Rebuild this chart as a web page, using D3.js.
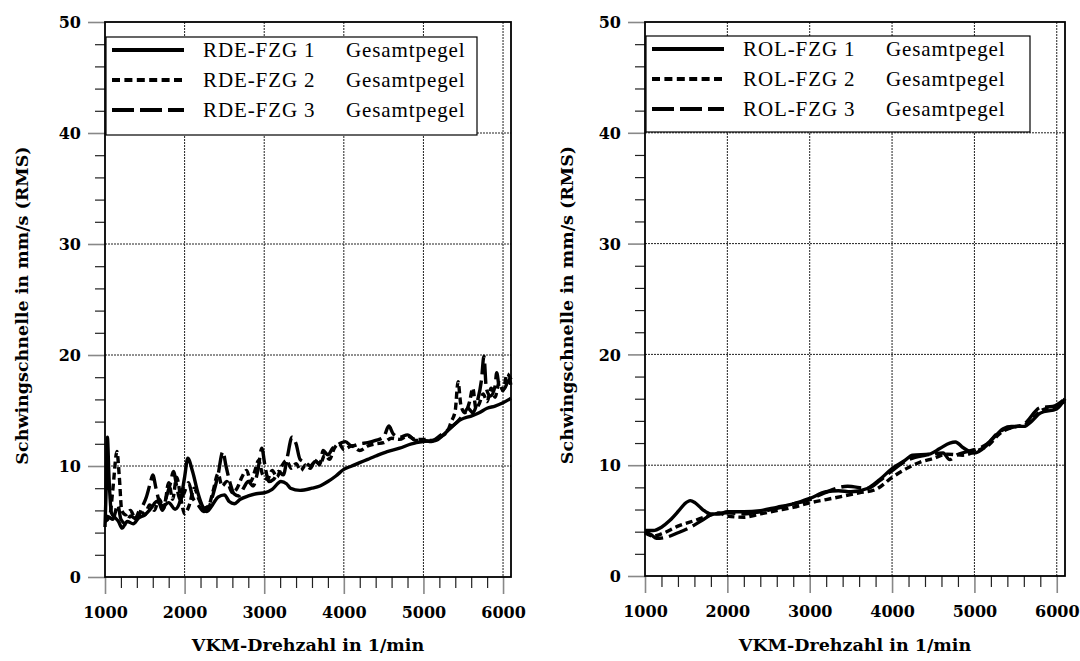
<!DOCTYPE html>
<html>
<head>
<meta charset="utf-8">
<script src="https://cdn.jsdelivr.net/npm/d3@7"></script>
<style>
  html, body { margin: 0; padding: 0; background: #fff; }
  svg { display: block; }
  text { font-family: "Liberation Serif", "DejaVu Serif", serif; fill: #000; }
  text.bold { font-family: "DejaVu Serif", serif; font-weight: bold; }
</style>
</head>
<body>
<svg id="chart" width="1080" height="661"></svg>
<script>
// ---------- DATA ----------
const xTicks = [1000, 2000, 3000, 4000, 5000, 6000];
const yTicks = [0, 10, 20, 30, 40, 50];
const xDomain = [1000, 6100];
const yDomain = [0, 50];
const xTitle = "VKM-Drehzahl in 1/min";
const yTitle = "Schwingschnelle in mm/s (RMS)";
const legendSuffix = "Gesamtpegel";
const leftNames = ["RDE-FZG 1", "RDE-FZG 2", "RDE-FZG 3"];
const rightNames = ["ROL-FZG 1", "ROL-FZG 2", "ROL-FZG 3"];

const rde1 = [[1000,4.5],[1015,8],[1030,12.6],[1050,9],[1080,5.8],[1120,5.4],[1170,5.0],[1215,4.4],[1280,5.0],[1355,4.8],[1420,5.3],[1500,5.6],[1580,6.2],[1650,6.8],[1730,6.4],[1800,6.7],[1880,6.1],[1950,7.0],[2000,9.0],[2040,10.7],[2100,9.5],[2170,7.5],[2230,6.3],[2280,5.9],[2350,6.5],[2420,7.2],[2500,7.4],[2560,6.8],[2625,6.6],[2700,7.0],[2800,7.3],[2900,7.5],[3010,7.6],[3100,7.9],[3210,8.6],[3280,8.4],[3330,8.0],[3450,7.8],[3600,8.0],[3700,8.2],[3800,8.6],[3900,9.1],[4000,9.7],[4100,10.0],[4200,10.3],[4300,10.6],[4400,10.9],[4545,11.3],[4700,11.6],[4850,12.0],[5000,12.2],[5150,12.3],[5250,12.8],[5350,13.5],[5475,14.2],[5600,14.5],[5700,14.8],[5800,15.2],[5900,15.4],[6000,15.7],[6100,16.1]];

const rde2 = [[1000,5.0],[1060,5.5],[1100,8.0],[1150,11.3],[1180,9.0],[1210,6.0],[1260,5.6],[1320,6.0],[1380,5.3],[1440,6.0],[1500,5.6],[1560,6.5],[1620,6.0],[1680,7.0],[1740,6.2],[1800,8.5],[1850,7.0],[1900,9.0],[1950,7.2],[2000,5.7],[2060,6.5],[2120,8.0],[2180,7.0],[2240,6.2],[2300,6.4],[2360,7.8],[2420,9.3],[2470,8.2],[2530,8.6],[2600,7.6],[2660,8.0],[2720,9.0],[2780,9.6],[2830,8.6],[2880,9.5],[2930,10.5],[2980,9.2],[3040,8.8],[3100,9.6],[3160,9.0],[3220,10.0],[3280,10.5],[3340,9.8],[3400,10.2],[3460,9.6],[3520,10.1],[3580,9.8],[3640,10.5],[3700,10.1],[3760,11.0],[3820,10.6],[3880,11.6],[3940,12.0],[4000,11.5],[4100,11.8],[4200,11.4],[4300,11.8],[4400,12.0],[4500,12.1],[4600,12.5],[4700,12.4],[4800,12.7],[4900,12.4],[5000,12.4],[5100,12.3],[5200,12.6],[5300,13.1],[5350,14.0],[5400,15.0],[5435,17.6],[5470,15.5],[5520,14.8],[5580,15.8],[5620,17.0],[5660,15.2],[5700,15.6],[5750,16.5],[5800,15.8],[5850,17.0],[5900,16.2],[5950,17.5],[6000,16.8],[6050,18.3],[6100,17.8]];

const rde3 = [[1000,5.5],[1050,5.4],[1100,5.2],[1160,6.5],[1200,5.2],[1260,4.8],[1320,5.5],[1400,5.2],[1460,6.2],[1520,7.2],[1570,8.5],[1600,9.2],[1640,8.0],[1680,6.8],[1720,6.0],[1770,7.2],[1820,8.4],[1860,9.5],[1900,8.2],[1940,7.0],[1990,7.5],[2050,8.5],[2100,7.2],[2170,6.5],[2240,5.9],[2300,6.2],[2360,7.5],[2420,9.2],[2480,11.3],[2520,10.0],[2570,8.5],[2620,7.5],[2680,7.3],[2740,8.0],[2800,8.6],[2860,8.2],[2920,9.6],[2970,11.6],[3010,10.0],[3060,8.6],[3120,8.8],[3180,9.5],[3240,9.2],[3290,10.8],[3350,12.6],[3400,12.0],[3450,10.6],[3520,10.3],[3580,10.0],[3640,10.4],[3700,10.2],[3740,11.4],[3800,11.0],[3860,11.6],[3920,11.9],[4020,12.2],[4100,11.8],[4200,12.0],[4300,12.1],[4400,12.3],[4500,12.6],[4565,13.6],[4620,12.9],[4700,12.6],[4800,12.8],[4900,12.3],[5000,12.3],[5100,12.2],[5200,12.7],[5300,13.2],[5400,13.8],[5500,14.6],[5560,15.2],[5620,14.8],[5680,15.9],[5730,17.8],[5760,19.9],[5790,17.0],[5840,16.3],[5900,17.2],[5920,18.4],[5960,16.8],[6020,17.0],[6080,17.8],[6100,17.2]];

const rol1 = [[1000,4.1],[1100,4.1],[1200,4.4],[1300,5.0],[1400,5.8],[1480,6.5],[1550,6.8],[1610,6.6],[1700,6.0],[1800,5.6],[1900,5.6],[2000,5.8],[2200,5.8],[2400,5.9],[2600,6.2],[2800,6.5],[3000,7.0],[3200,7.6],[3350,7.7],[3500,7.6],[3700,7.9],[3850,8.7],[4000,9.7],[4150,10.4],[4250,10.9],[4450,11.0],[4580,11.5],[4700,12.0],[4770,12.1],[4860,11.6],[5000,11.1],[5150,11.8],[5250,12.6],[5350,13.3],[5450,13.5],[5600,13.5],[5700,14.0],[5800,14.7],[6000,15.1],[6100,16.0]];

const rol2 = [[1000,3.9],[1100,3.6],[1200,3.8],[1400,4.5],[1600,5.0],[1800,5.5],[1900,5.7],[2000,5.4],[2200,5.3],[2400,5.6],[2600,5.9],[2800,6.2],[3000,6.6],[3200,6.9],[3400,7.2],[3600,7.5],[3800,7.8],[4000,8.9],[4200,9.8],[4350,10.3],[4500,10.6],[4660,11.0],[4860,10.9],[5000,11.2],[5185,11.9],[5300,12.8],[5450,13.4],[5600,13.6],[5830,15.0],[6000,15.3],[6100,15.8]];

const rol3 = [[1000,4.0],[1080,3.7],[1140,3.4],[1260,3.5],[1400,3.9],[1550,4.4],[1710,5.1],[1830,5.6],[2000,5.7],[2200,5.6],[2400,5.8],[2600,6.1],[2800,6.5],[3000,6.9],[3180,7.5],[3460,8.1],[3700,7.9],[3850,8.6],[4000,9.5],[4200,10.5],[4400,10.9],[4620,11.1],[4700,10.5],[4780,10.9],[4900,11.2],[5000,11.4],[5150,11.9],[5300,13.0],[5450,13.4],[5600,13.7],[5800,15.2],[5950,15.3],[6100,16.0]];

// ---------- DRAWING ----------
const svg = d3.select("#chart");
const dashes = [null, "7,4", "20,6"];

function panel(cfg) {
  const g = svg.append("g");
  const x = d3.scaleLinear().domain(xDomain).range([cfg.x0, cfg.x1]);
  const y = d3.scaleLinear().domain(yDomain).range([cfg.yb, cfg.yt]);

  // grid
  g.append("g").selectAll("line").data(yTicks.filter(v => v > yDomain[0] && v < yDomain[1]))
    .join("line")
    .attr("x1", cfg.x0).attr("x2", cfg.x1)
    .attr("y1", d => y(d)).attr("y2", d => y(d))
    .attr("stroke", "#222").attr("stroke-width", 1).attr("stroke-dasharray", "2,1");
  g.append("g").selectAll("line").data(xTicks.filter(v => v > xDomain[0]))
    .join("line")
    .attr("x1", d => x(d)).attr("x2", d => x(d))
    .attr("y1", cfg.yt).attr("y2", cfg.yb)
    .attr("stroke", "#222").attr("stroke-width", 1).attr("stroke-dasharray", "2,1");

  // minor x ticks
  const xMinor = d3.range(1200, 6100, 200).filter(v => v % 1000 !== 0);
  const gxm = g.append("g").attr("transform", `translate(0,${cfg.yb})`)
    .call(d3.axisBottom(x).tickValues(xMinor).tickSize(11).tickFormat(""));
  gxm.select(".domain").remove();
  gxm.selectAll("line").attr("stroke", "#222").attr("stroke-width", 1.2);

  // major x ticks
  const gx = g.append("g").attr("transform", `translate(0,${cfg.yb})`)
    .call(d3.axisBottom(x).tickValues(xTicks).tickSize(17).tickFormat(d3.format("d")));
  gx.select(".domain").remove();
  gx.selectAll("line").attr("stroke", "#888").attr("stroke-width", 1.6);
  gx.selectAll("text").attr("class", "bold").attr("y", 41).attr("dy", null)
    .style("font-size", "16px");

  // minor y ticks
  const yMinor = d3.range(2, 50, 2).filter(v => v % 10 !== 0);
  const gym = g.append("g").attr("transform", `translate(${cfg.x0},0)`)
    .call(d3.axisLeft(y).tickValues(yMinor).tickSize(10).tickFormat(""));
  gym.select(".domain").remove();
  gym.selectAll("line").attr("stroke", "#222").attr("stroke-width", 1.2);

  // major y ticks
  const gy = g.append("g").attr("transform", `translate(${cfg.x0},0)`)
    .call(d3.axisLeft(y).tickValues(yTicks).tickSize(17).tickFormat(d3.format("d")));
  gy.select(".domain").remove();
  gy.selectAll("line").attr("stroke", "#888").attr("stroke-width", 1.6);
  gy.selectAll("text").attr("class", "bold").attr("x", -24).attr("dy", "0.35em")
    .style("font-size", "16px");
  gx.attr("font-family", null); gy.attr("font-family", null);
  gx.attr("font-size", null); gy.attr("font-size", null);

  // lines
  const line = d3.line().x(d => x(d[0])).y(d => y(d[1])).curve(d3.curveMonotoneX);
  cfg.series.forEach((s, i) => {
    g.append("path").datum(s)
      .attr("d", line)
      .attr("fill", "none").attr("stroke", "#000").attr("stroke-width", 3.4)
      .attr("stroke-linejoin", "round")
      .attr("stroke-dasharray", dashes[i]);
  });

  // frame
  g.append("rect").attr("x", cfg.x0).attr("y", cfg.yt)
    .attr("width", cfg.x1 - cfg.x0).attr("height", cfg.yb - cfg.yt)
    .attr("fill", "none").attr("stroke", "#000").attr("stroke-width", 1.8);

  // legend
  const lg = g.append("g");
  lg.append("rect").attr("x", cfg.lx).attr("y", cfg.ly)
    .attr("width", cfg.lw).attr("height", cfg.lh)
    .attr("fill", "#fff").attr("stroke", "#000").attr("stroke-width", 1.2);
  cfg.names.forEach((n, i) => {
    const cy = cfg.ly + 13 + i * 30;
    lg.append("line").attr("x1", cfg.lx + 6).attr("x2", cfg.lx + 78)
      .attr("y1", cy).attr("y2", cy)
      .attr("stroke", "#000").attr("stroke-width", 4)
      .attr("stroke-dasharray", i === 1 ? "8,4.4" : (i === 2 ? "22,6" : null));
    lg.append("text").attr("x", cfg.lx + 97).attr("y", cy).attr("dy", "0.35em")
      .style("font-size", "21px").style("letter-spacing", "0.9px").text(n);
    lg.append("text").attr("x", cfg.lx + 240).attr("y", cy).attr("dy", "0.35em")
      .style("font-size", "21px").style("letter-spacing", "0.9px").text(legendSuffix);
  });

  // titles
  g.append("text").attr("class", "bold").attr("x", (cfg.x0 + cfg.x1) / 2).attr("y", 651)
    .attr("text-anchor", "middle")
    .style("font-size", "17.5px")
    .text(xTitle);
  g.append("text").attr("class", "bold")
    .attr("transform", `translate(${cfg.tx},${(cfg.yt + cfg.yb) / 2 + 6}) rotate(-90)`)
    .attr("text-anchor", "middle")
    .style("font-size", "17.5px")
    .text(yTitle);
}

panel({ x0: 105, x1: 511, yt: 22, yb: 577, series: [rde1, rde2, rde3], names: leftNames,
        lx: 106, ly: 37, lw: 371, lh: 98, tx: 28 });
panel({ x0: 645, x1: 1065, yt: 22, yb: 576, series: [rol1, rol2, rol3], names: rightNames,
        lx: 646, ly: 36, lw: 384, lh: 96, tx: 573 });
</script>
</body>
</html>
